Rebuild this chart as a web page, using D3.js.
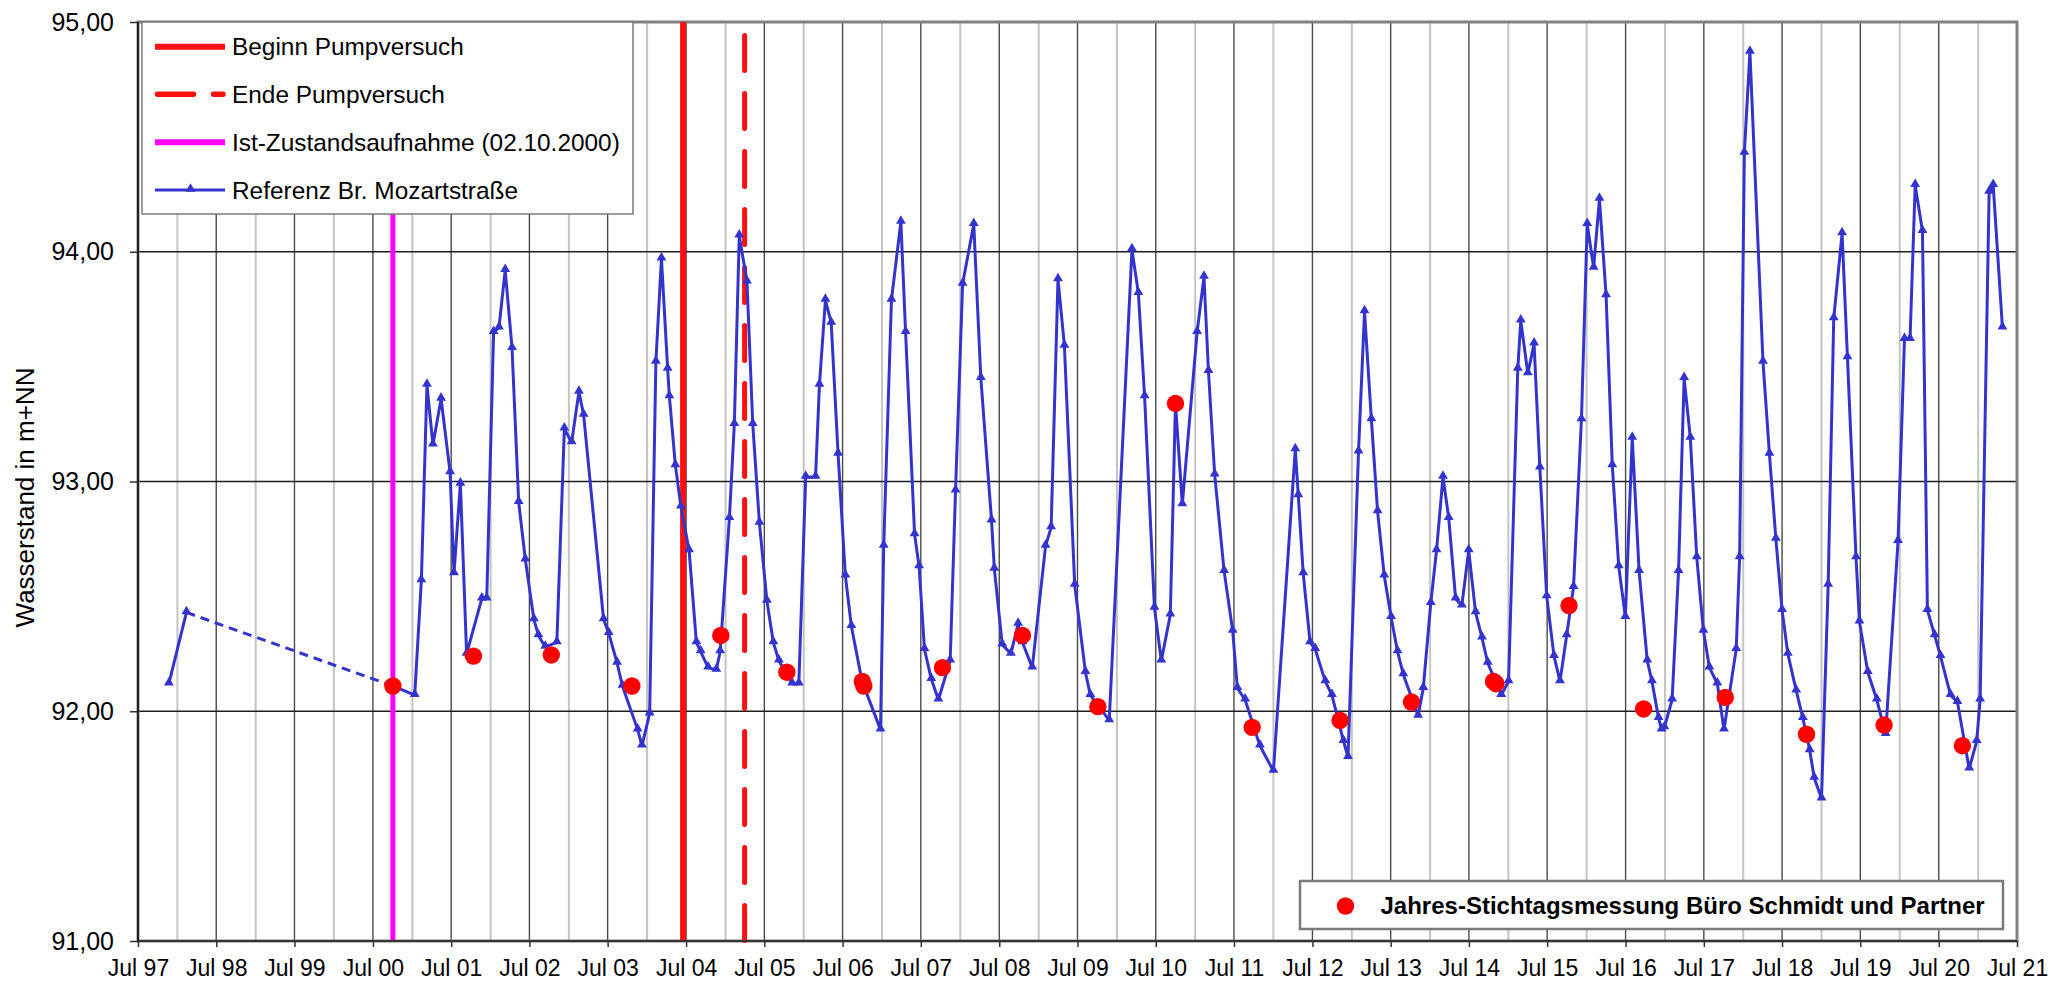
<!DOCTYPE html>
<html>
<head>
<meta charset="utf-8">
<script src="https://cdn.jsdelivr.net/npm/d3@7"></script>
<style>
  html, body { margin: 0; padding: 0; background: #ffffff; }
  svg { display: block; font-family: "Liberation Sans", Arial, Helvetica, sans-serif; }
</style>
</head>
<body>
<svg id="chart" width="2048" height="982"></svg>
<script>
// ---------------- DATA ----------------
const refDates = [
  "1997-11-22","1998-02-12","2000-10-02","2001-01-12","2001-02-12","2001-03-10","2001-04-07","2001-05-15","2001-06-26","2001-07-14",
  "2001-08-13","2001-09-11","2001-11-21","2001-12-14","2002-01-15","2002-02-09","2002-03-10","2002-04-11","2002-05-12","2002-06-12",
  "2002-07-22","2002-08-12","2002-09-13","2002-11-06","2002-12-11","2003-01-14","2003-02-17","2003-03-11","2003-06-12","2003-07-06",
  "2003-08-14","2003-09-08","2003-11-18","2003-12-08","2004-01-13","2004-02-11","2004-03-08","2004-04-06","2004-04-14","2004-05-12",
  "2004-06-07","2004-07-15","2004-08-18","2004-09-07","2004-10-12","2004-11-19","2004-12-07","2005-01-19","2005-02-11","2005-03-06",
  "2005-04-11","2005-05-08","2005-06-08","2005-07-13","2005-08-12","2005-09-07","2005-11-08","2005-12-09","2006-01-10","2006-02-25",
  "2006-03-15","2006-04-12","2006-05-09","2006-06-10","2006-07-14","2006-08-11","2006-09-30","2006-12-25","2007-01-09","2007-02-14",
  "2007-03-30","2007-04-21","2007-06-02","2007-06-23","2007-07-18","2007-08-19","2007-09-21","2007-11-15","2007-12-10","2008-01-12",
  "2008-03-04","2008-04-06","2008-05-26","2008-06-08","2008-07-15","2008-08-24","2008-09-27","2008-10-17","2008-12-02","2009-02-02",
  "2009-02-28","2009-04-01","2009-05-01","2009-06-18","2009-08-07","2009-08-30","2009-11-26","2010-03-12","2010-04-11","2010-05-10",
  "2010-06-25","2010-07-27","2010-09-07","2010-10-01","2010-11-02","2011-01-10","2011-02-11","2011-03-04","2011-04-02","2011-05-16",
  "2011-06-25","2011-07-17","2011-08-22","2011-10-30","2012-01-01","2012-04-12","2012-04-26","2012-05-19","2012-06-20","2012-07-14",
  "2012-08-30","2012-09-30","2012-11-23","2012-12-14","2013-02-01","2013-03-01","2013-04-02","2013-05-01","2013-06-01","2013-07-03",
  "2013-08-02","2013-08-29","2013-11-06","2013-11-30","2014-01-04","2014-01-31","2014-03-02","2014-03-29","2014-04-30","2014-05-29",
  "2014-06-30","2014-08-01","2014-08-31","2014-09-27","2014-11-29","2015-01-02","2015-02-14","2015-02-28","2015-04-02","2015-05-01",
  "2015-05-28","2015-06-29","2015-08-02","2015-08-30","2015-09-30","2015-11-01","2015-12-08","2016-01-04","2016-02-03","2016-03-01",
  "2016-04-01","2016-04-30","2016-05-30","2016-06-30","2016-08-01","2016-09-02","2016-10-10","2016-11-01","2016-12-02","2016-12-16",
  "2016-12-29","2017-02-03","2017-03-05","2017-03-31","2017-04-29","2017-05-29","2017-06-29","2017-07-27","2017-09-02","2017-10-03",
  "2017-11-29","2017-12-15","2018-01-06","2018-02-01","2018-04-03","2018-05-03","2018-06-02","2018-07-01","2018-07-28","2018-09-05",
  "2018-10-06","2018-11-07","2018-11-28","2019-01-01","2019-02-01","2019-02-27","2019-04-07","2019-05-02","2019-06-11","2019-06-27",
  "2019-08-05","2019-09-16","2019-10-27","2019-12-24","2020-01-23","2020-02-18","2020-03-13","2020-04-16","2020-05-09","2020-06-12",
  "2020-07-09","2020-08-25","2020-09-26","2020-11-20","2020-12-25","2021-01-10","2021-02-21","2021-03-12","2021-04-24"
];
const refValues = [
  92.12,92.43,92.11,92.07,92.57,93.42,93.16,93.36,93.04,92.60,
  92.99,92.25,92.49,92.49,93.65,93.67,93.92,93.58,92.91,92.66,
  92.40,92.33,92.28,92.30,93.23,93.17,93.39,93.29,92.40,92.34,
  92.21,92.11,91.92,91.85,91.99,93.52,93.97,93.49,93.37,93.07,
  92.89,92.70,92.30,92.26,92.19,92.18,92.26,92.84,93.25,94.07,
  93.87,93.25,92.82,92.48,92.30,92.22,92.12,92.12,93.02,93.02,
  93.42,93.79,93.69,93.12,92.59,92.37,92.13,91.92,92.72,93.79,
  94.13,93.65,92.77,92.63,92.27,92.14,92.05,92.22,92.96,93.86,
  94.12,93.45,92.83,92.62,92.29,92.25,92.38,92.30,92.19,92.72,
  92.80,93.88,93.59,92.55,92.17,92.07,91.96,94.01,93.82,93.37,
  92.45,92.22,92.42,93.34,92.90,93.65,93.89,93.48,93.03,92.61,
  92.35,92.10,92.05,91.85,91.74,93.14,92.94,92.60,92.30,92.27,
  92.13,92.07,91.87,91.80,93.13,93.74,93.27,92.87,92.59,92.41,
  92.26,92.16,91.98,92.10,92.47,92.70,93.02,92.84,92.49,92.46,
  92.70,92.43,92.32,92.21,92.07,92.13,93.49,93.70,93.47,93.60,
  93.06,92.50,92.24,92.13,92.33,92.54,93.27,94.12,93.93,94.23,
  93.81,93.07,92.63,92.41,93.19,92.61,92.22,92.13,91.97,91.92,
  91.93,92.05,92.61,93.45,93.19,92.67,92.35,92.19,92.12,91.92,
  92.27,92.67,94.43,94.87,93.52,93.12,92.75,92.44,92.25,92.09,
  91.97,91.83,91.71,91.62,92.55,93.71,94.08,93.54,92.67,92.39,
  92.17,92.05,91.90,92.74,93.62,93.62,94.29,94.09,92.44,92.33,
  92.24,92.07,92.04,91.75,91.87,92.05,94.26,94.29,93.67
];
// index range of the measurement gap (drawn dashed)
const gapFrom = 1, gapTo = 2;

const stichDates = [
  "2000-10-02","2001-10-13","2002-10-11","2003-10-22","2004-12-10","2005-10-14","2006-10-01","2006-10-08",
  "2007-10-10","2008-10-17","2009-10-04","2010-10-01","2011-09-24","2012-11-07","2013-10-06","2014-10-24",
  "2014-11-04","2015-10-11","2016-09-23","2017-10-09","2018-10-23","2019-10-20","2020-10-19"
];
const stichValues = [
  92.11,92.24,92.245,92.11,92.33,92.17,92.13,92.11,
  92.19,92.33,92.02,93.34,91.93,91.96,92.04,92.13,
  92.12,92.46,92.01,92.06,91.90,91.94,91.85
];

const eventLabels = ["Beginn Pumpversuch","Ende Pumpversuch","Ist-Zustandsaufnahme (02.10.2000)"];
const eventDates  = ["2004-06-17","2005-03-31","2000-10-02"];

const seriesLabel = "Referenz Br. Mozartstraße";
const stichLabel  = "Jahres-Stichtagsmessung Büro Schmidt und Partner";
const yTitle = "Wasserstand in m+NN";

const xTickYears = d3.range(1997, 2022);
const xTickLabels = ["Jul 97","Jul 98","Jul 99","Jul 00","Jul 01","Jul 02","Jul 03","Jul 04","Jul 05","Jul 06","Jul 07","Jul 08",
  "Jul 09","Jul 10","Jul 11","Jul 12","Jul 13","Jul 14","Jul 15","Jul 16","Jul 17","Jul 18","Jul 19","Jul 20","Jul 21"];
const yTicks = [91, 92, 93, 94, 95];
const yTickLabels = ["91,00","92,00","93,00","94,00","95,00"];

// ---------------- CHART ----------------
const parse = d3.utcParse("%Y-%m-%d");
const W = 2048, H = 982;
const plot = { left: 138, right: 2017, top: 22, bottom: 941 };

const x = d3.scaleUtc()
  .domain([Date.UTC(1997, 6, 1), Date.UTC(2021, 6, 1)])
  .range([plot.left, plot.right]);
const y = d3.scaleLinear().domain([91, 95]).range([plot.bottom, plot.top]);

const svg = d3.select("#chart");
svg.append("rect").attr("width", W).attr("height", H).attr("fill", "#fff");

const grid = svg.append("g");
// minor verticals (January)
grid.selectAll("line.minor").data(d3.range(1998, 2022)).join("line")
  .attr("x1", d => x(Date.UTC(d, 0, 1))).attr("x2", d => x(Date.UTC(d, 0, 1)))
  .attr("y1", plot.top).attr("y2", plot.bottom)
  .attr("stroke", "#c4c4c4").attr("stroke-width", 2);
// major verticals (July)
grid.selectAll("line.major").data(xTickYears.slice(1, -1)).join("line")
  .attr("x1", d => x(Date.UTC(d, 6, 1))).attr("x2", d => x(Date.UTC(d, 6, 1)))
  .attr("y1", plot.top).attr("y2", plot.bottom)
  .attr("stroke", "#4a4a4a").attr("stroke-width", 1.4);
// horizontal grid
grid.selectAll("line.h").data(yTicks.slice(1, -1)).join("line")
  .attr("x1", plot.left).attr("x2", plot.right)
  .attr("y1", d => y(d)).attr("y2", d => y(d))
  .attr("stroke", "#1e1e1e").attr("stroke-width", 1.3);

// plot border
svg.append("rect")
  .attr("x", plot.left).attr("y", plot.top)
  .attr("width", plot.right - plot.left).attr("height", plot.bottom - plot.top)
  .attr("fill", "none").attr("stroke", "#808080").attr("stroke-width", 3);

// vertical event lines
const evStyle = [
  { color: "#ff1010", width: 6, dash: null },
  { color: "#ff1010", width: 5, dash: "35,23" },
  { color: "#ff00ff", width: 5, dash: null }
];
eventDates.forEach((d, i) => {
  const xx = x(parse(d));
  const st = evStyle[i];
  const ln = svg.append("line")
    .attr("x1", xx).attr("x2", xx)
    .attr("y1", st.dash ? 35.5 : plot.top).attr("y2", plot.bottom)
    .attr("stroke", st.color).attr("stroke-width", st.width);
  if (st.dash) ln.attr("stroke-dasharray", st.dash).attr("stroke-linecap", "round");
});

// axes
const xAxis = d3.axisBottom(x)
  .tickValues(xTickYears.map(yr => new Date(Date.UTC(yr, 6, 1))))
  .tickFormat((d, i) => xTickLabels[i])
  .tickSize(6).tickPadding(13);
const gx = svg.append("g").attr("transform", `translate(0,${plot.bottom})`).call(xAxis);
gx.select(".domain").remove();
gx.selectAll(".tick line").attr("stroke", "#333").attr("stroke-width", 1.5);
gx.selectAll(".tick text").attr("font-size", 23).attr("fill", "#000")
  .style("font-family", '"Liberation Sans", Arial, sans-serif');

const yAxis = d3.axisLeft(y)
  .tickValues(yTicks)
  .tickFormat((d, i) => yTickLabels[i])
  .tickSize(8).tickPadding(16);
const gy = svg.append("g").attr("transform", `translate(${plot.left},0)`).call(yAxis);
gy.select(".domain").remove();
gy.selectAll(".tick line").attr("stroke", "#333").attr("stroke-width", 1.5);
gy.selectAll(".tick text").attr("font-size", 25).attr("fill", "#000")
  .style("font-family", '"Liberation Sans", Arial, sans-serif');

// axis lines
svg.append("line").attr("x1", plot.left).attr("x2", plot.left)
  .attr("y1", plot.top).attr("y2", plot.bottom).attr("stroke", "#222").attr("stroke-width", 2);
svg.append("line").attr("x1", plot.left).attr("x2", plot.right)
  .attr("y1", plot.bottom).attr("y2", plot.bottom).attr("stroke", "#333").attr("stroke-width", 2);

// y title
svg.append("text")
  .attr("transform", `translate(34,${(plot.top + plot.bottom) / 2 + 16}) rotate(-90)`)
  .attr("text-anchor", "middle").attr("font-size", 26).attr("fill", "#000")
  .text(yTitle);

// reference series
const pts = refDates.map((d, i) => ({ date: parse(d), value: refValues[i] }));
const line = d3.line().x(d => x(d.date)).y(d => y(d.value));
const blue = "#3434cc";
svg.append("path").datum(pts.slice(0, gapFrom + 1))
  .attr("d", line).attr("fill", "none").attr("stroke", blue).attr("stroke-width", 3);
svg.append("path").datum(pts.slice(gapFrom, gapTo + 1))
  .attr("d", line).attr("fill", "none").attr("stroke", blue).attr("stroke-width", 3)
  .attr("stroke-dasharray", "9,6");
svg.append("path").datum(pts.slice(gapTo))
  .attr("d", line).attr("fill", "none").attr("stroke", blue).attr("stroke-width", 3)
  .attr("stroke-linejoin", "round");
const tri = d3.symbol().type(d3.symbolTriangle).size(42);
svg.append("g").selectAll("path").data(pts).join("path")
  .attr("d", tri)
  .attr("transform", d => `translate(${x(d.date)},${y(d.value) - 1})`)
  .attr("fill", blue);

// Stichtag points
svg.append("g").selectAll("circle").data(stichDates.map((d, i) => ({ date: parse(d), value: stichValues[i] })))
  .join("circle")
  .attr("cx", d => x(d.date)).attr("cy", d => y(d.value)).attr("r", 8.7)
  .attr("fill", "#ff0000");

// legend 1
const lg = svg.append("g");
lg.append("rect").attr("x", 142).attr("y", 22).attr("width", 491).attr("height", 192)
  .attr("fill", "#fff").attr("stroke", "#7a7a7a").attr("stroke-width", 1.5);
const rowY = [46.7, 94.3, 142.3, 190];
const legTexts = [eventLabels[0], eventLabels[1], eventLabels[2], seriesLabel];
legTexts.forEach((t, i) => {
  lg.append("text").attr("x", 232).attr("y", rowY[i] + 8.5)
    .attr("font-size", 24.4).attr("fill", "#000").text(t);
});
lg.append("line").attr("x1", 155).attr("x2", 225).attr("y1", rowY[0]).attr("y2", rowY[0])
  .attr("stroke", "#ff1010").attr("stroke-width", 6);
lg.append("line").attr("x1", 157.5).attr("x2", 223).attr("y1", rowY[1]).attr("y2", rowY[1])
  .attr("stroke", "#ff1010").attr("stroke-width", 5.5).attr("stroke-linecap", "round")
  .attr("stroke-dasharray", "36,20");
lg.append("line").attr("x1", 155).attr("x2", 225).attr("y1", rowY[2]).attr("y2", rowY[2])
  .attr("stroke", "#ff00ff").attr("stroke-width", 6);
lg.append("line").attr("x1", 155).attr("x2", 225).attr("y1", rowY[3]).attr("y2", rowY[3])
  .attr("stroke", blue).attr("stroke-width", 3);
lg.append("path").attr("d", tri).attr("transform", `translate(190.5,${rowY[3] - 1})`).attr("fill", blue);

// legend 2
const lg2 = svg.append("g");
lg2.append("rect").attr("x", 1300).attr("y", 881).attr("width", 703).attr("height", 48)
  .attr("fill", "#fff").attr("stroke", "#7a7a7a").attr("stroke-width", 2.5);
lg2.append("circle").attr("cx", 1345.5).attr("cy", 906).attr("r", 8.7).attr("fill", "#ff0000");
lg2.append("text").attr("x", 1380.5).attr("y", 913.5).attr("font-size", 24).attr("font-weight", "bold")
  .attr("fill", "#000").text(stichLabel);
</script>
</body>
</html>
